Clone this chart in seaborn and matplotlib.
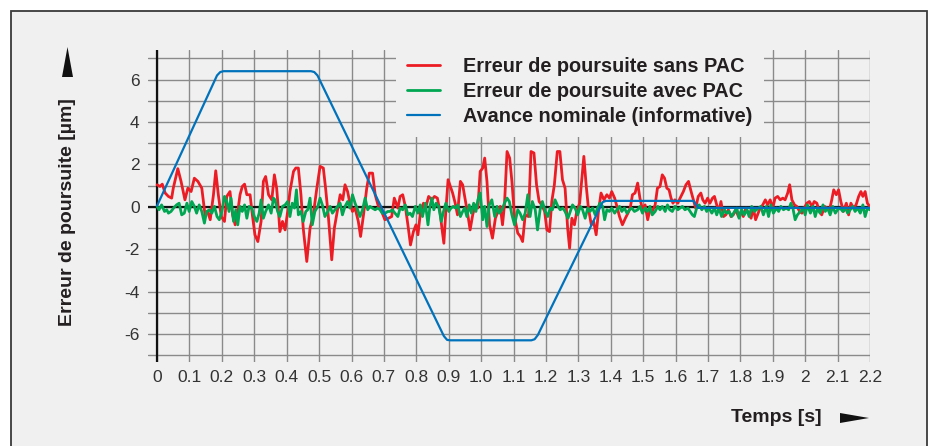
import pandas as pd
import matplotlib.pyplot as plt
import seaborn as sns
from matplotlib.patches import Rectangle, Polygon

# Temps [s] / erreur [µm]
t_sans = [0.000, 0.009, 0.016, 0.025, 0.035, 0.045, 0.050, 0.064, 0.074, 0.086, 0.095, 0.105, 0.115, 0.126,
          0.138, 0.148, 0.156, 0.164, 0.174, 0.181, 0.189, 0.198, 0.208, 0.215, 0.225, 0.233, 0.241, 0.249,
          0.256, 0.263, 0.270, 0.277, 0.287, 0.294, 0.302, 0.311, 0.321, 0.328, 0.335, 0.344, 0.354, 0.362,
          0.369, 0.374, 0.379, 0.387, 0.395, 0.403, 0.410, 0.421, 0.428, 0.436, 0.444, 0.451, 0.462, 0.472,
          0.482, 0.493, 0.503, 0.513, 0.520, 0.529, 0.539, 0.547, 0.556, 0.565, 0.573, 0.580, 0.588, 0.595,
          0.603, 0.611, 0.621, 0.628, 0.637, 0.647, 0.655, 0.665, 0.673, 0.683, 0.693, 0.703, 0.714, 0.724,
          0.732, 0.743, 0.750, 0.758, 0.766, 0.774, 0.782, 0.791, 0.799, 0.805, 0.813, 0.822, 0.830, 0.838,
          0.848, 0.856, 0.865, 0.873, 0.879, 0.885, 0.891, 0.898, 0.905, 0.912, 0.920, 0.927, 0.936, 0.943,
          0.951, 0.959, 0.966, 0.974, 0.982, 0.990, 0.997, 1.005, 1.011, 1.018, 1.026, 1.035, 1.044, 1.052,
          1.059, 1.066, 1.072, 1.080, 1.088, 1.095, 1.103, 1.113, 1.121, 1.128, 1.136, 1.146, 1.154, 1.163,
          1.171, 1.179, 1.187, 1.196, 1.203, 1.211, 1.218, 1.226, 1.235, 1.243, 1.251, 1.259, 1.267, 1.273,
          1.280, 1.288, 1.295, 1.304, 1.311, 1.317, 1.324, 1.331, 1.340, 1.347, 1.355, 1.362, 1.370, 1.379,
          1.388, 1.396, 1.403, 1.412, 1.419, 1.427, 1.436, 1.445, 1.453, 1.460, 1.467, 1.475, 1.483, 1.490,
          1.498, 1.506, 1.514, 1.521, 1.528, 1.537, 1.544, 1.552, 1.559, 1.566, 1.573, 1.580, 1.586, 1.592,
          1.598, 1.607, 1.614, 1.624, 1.632, 1.640, 1.648, 1.655, 1.662, 1.670, 1.678, 1.684, 1.691, 1.699,
          1.706, 1.714, 1.720, 1.727, 1.734, 1.740, 1.748, 1.755, 1.763, 1.771, 1.778, 1.786, 1.794, 1.802,
          1.809, 1.817, 1.825, 1.833, 1.840, 1.847, 1.861, 1.869, 1.877, 1.884, 1.892, 1.900, 1.907, 1.915,
          1.923, 1.931, 1.938, 1.946, 1.952, 1.959, 1.967, 1.974, 1.983, 1.990, 1.997, 2.005, 2.013, 2.021,
          2.028, 2.036, 2.044, 2.051, 2.060, 2.067, 2.075, 2.082, 2.088, 2.096, 2.103, 2.110, 2.118, 2.127,
          2.134, 2.141, 2.149, 2.157, 2.165, 2.172, 2.178, 2.185, 2.192, 2.199]
err_sans = [1.04, 0.96, 1.07, 0.65, 0.49, 0.41, 0.88, 1.80, 1.20, 0.33, 0.88, 0.72, 1.35, 1.20,
            0.88, -0.38, -0.22, -0.61, 0.57, 1.70, 0.57, -0.46, -0.69, 0.49, 0.72, -0.38, -0.85, -0.22,
            0.57, 0.96, 1.07, 0.57, 0.57, -0.38, -1.32, -1.64, -0.69, 1.20, 1.43, 0.57, 0.33, 1.51,
            0.88, -0.06, -1.17, -0.69, -1.09, -0.22, 0.72, 1.67, 1.83, 1.83, 0.57, -1.01, -2.58, -1.01,
            -0.38, 0.88, 1.91, 1.83, 0.88, -0.54, -2.50, -1.01, -0.22, 0.57, 0.33, 1.04, 0.72, 0.17,
            -0.22, -0.06, -0.69, -1.40, -0.38, 0.88, 1.59, 1.59, 0.57, 0.02, -0.22, -0.61, -0.54, -0.46,
            0.41, -0.06, 0.49, 0.57, 0.02, -0.85, -1.80, -1.17, -0.85, -1.32, -0.22, 0.17, 0.02, 0.49,
            0.33, 0.49, 0.41, -0.22, -1.01, -1.72, -0.22, 1.28, 0.96, 0.65, 0.17, -0.38, 1.20, 1.04,
            0.33, -0.38, -1.09, -0.38, 0.09, -0.06, 1.67, 1.83, 2.30, 1.20, -0.85, -1.48, -0.54, -0.22,
            0.02, -0.85, 0.09, 2.61, 2.30, 1.20, -0.46, -1.24, -1.40, -1.64, -0.38, -0.46, 2.61, 2.54,
            1.04, 0.25, 0.09, -0.22, -1.09, -1.17, 0.25, 1.04, 2.61, 2.61, 1.28, 0.88, -1.01, -1.95,
            -0.54, -0.85, -0.22, 0.17, 1.35, 2.38, 1.04, -0.06, -0.85, -0.69, -1.32, -0.22, 0.65, 0.33,
            0.57, 0.41, 0.72, 0.41, 0.02, -0.46, -0.85, -0.54, -0.30, -0.06, 0.57, 0.65, 1.12, 0.41,
            -0.14, 0.09, -0.61, -0.14, -0.22, 0.09, 0.88, 0.96, 1.51, 1.35, 0.88, 0.80, 0.41, 0.17,
            0.33, 0.17, 0.41, 0.72, 1.04, 1.20, 0.72, 0.33, -0.06, 0.49, 0.65, 0.33, 0.17, 0.41,
            0.17, 0.41, 0.49, 0.09, -0.22, 0.25, -0.46, -0.38, -0.14, -0.46, -0.38, -0.14, -0.46, -0.22,
            -0.46, -0.06, -0.30, -0.54, -0.06, -0.61, -0.06, 0.09, 0.33, 0.09, 0.33, -0.06, 0.41, 0.49,
            0.33, 0.41, 0.33, 0.65, 1.04, 0.33, 0.09, 0.02, -0.22, -0.30, -0.06, 0.17, 0.25, 0.02,
            0.25, 0.17, -0.22, -0.38, 0.02, -0.06, -0.14, 0.33, 0.80, 0.57, 0.80, 0.25, -0.22, 0.17,
            -0.38, 0.17, -0.06, 0.09, 0.49, 0.72, 0.49, 0.72, 0.17, 0.02]

t_avec = [0.000, 0.006, 0.014, 0.023, 0.030, 0.035, 0.043, 0.051, 0.060, 0.068, 0.076, 0.084, 0.092, 0.099,
          0.107, 0.115, 0.122, 0.130, 0.138, 0.146, 0.153, 0.162, 0.169, 0.177, 0.185, 0.192, 0.200, 0.208,
          0.215, 0.222, 0.228, 0.236, 0.243, 0.249, 0.256, 0.263, 0.270, 0.277, 0.284, 0.292, 0.300, 0.308,
          0.315, 0.321, 0.328, 0.335, 0.344, 0.352, 0.359, 0.364, 0.372, 0.379, 0.387, 0.395, 0.403, 0.410,
          0.417, 0.424, 0.430, 0.436, 0.444, 0.451, 0.459, 0.465, 0.472, 0.479, 0.487, 0.496, 0.503, 0.510,
          0.518, 0.527, 0.534, 0.541, 0.549, 0.557, 0.565, 0.572, 0.580, 0.588, 0.595, 0.603, 0.611, 0.619,
          0.626, 0.634, 0.642, 0.650, 0.657, 0.664, 0.673, 0.681, 0.688, 0.695, 0.704, 0.712, 0.719, 0.726,
          0.734, 0.743, 0.750, 0.758, 0.766, 0.774, 0.781, 0.788, 0.797, 0.805, 0.812, 0.819, 0.828, 0.836,
          0.842, 0.848, 0.854, 0.861, 0.869, 0.877, 0.884, 0.891, 0.900, 0.907, 0.914, 0.921, 0.928, 0.936,
          0.943, 0.949, 0.956, 0.963, 0.970, 0.977, 0.984, 0.990, 0.997, 1.005, 1.011, 1.018, 1.025, 1.033,
          1.042, 1.049, 1.056, 1.064, 1.072, 1.080, 1.087, 1.095, 1.103, 1.113, 1.120, 1.128, 1.136, 1.144,
          1.151, 1.158, 1.167, 1.174, 1.182, 1.189, 1.198, 1.206, 1.213, 1.220, 1.228, 1.237, 1.244, 1.252,
          1.259, 1.268, 1.275, 1.282, 1.290, 1.298, 1.306, 1.313, 1.321, 1.329, 1.336, 1.344, 1.352, 1.359,
          1.367, 1.375, 1.381, 1.388, 1.396, 1.403, 1.412, 1.419, 1.427, 1.434, 1.442, 1.450, 1.458, 1.465,
          1.473, 1.483, 1.490, 1.498, 1.506, 1.514, 1.521, 1.528, 1.537, 1.545, 1.552, 1.559, 1.568, 1.575,
          1.582, 1.590, 1.598, 1.607, 1.614, 1.621, 1.629, 1.638, 1.645, 1.652, 1.658, 1.665, 1.673, 1.681,
          1.689, 1.696, 1.703, 1.712, 1.720, 1.727, 1.734, 1.742, 1.751, 1.758, 1.765, 1.773, 1.782, 1.789,
          1.796, 1.804, 1.812, 1.820, 1.827, 1.835, 1.843, 1.863, 1.871, 1.880, 1.887, 1.894, 1.902, 1.911,
          1.918, 1.925, 1.933, 1.941, 1.949, 1.956, 1.962, 1.969, 1.976, 1.985, 1.993, 2.000, 2.007, 2.016,
          2.024, 2.031, 2.038, 2.046, 2.055, 2.062, 2.069, 2.077, 2.085, 2.093, 2.100, 2.108, 2.116, 2.124,
          2.131, 2.139, 2.147, 2.154, 2.162, 2.170, 2.178, 2.185, 2.192, 2.199]
err_avec = [0.02, -0.14, 0.09, -0.22, -0.14, -0.30, -0.22, -0.06, 0.09, 0.17, -0.38, -0.30, 0.17, -0.22,
            0.25, 0.02, -0.30, 0.09, -0.22, -0.77, -0.22, -0.14, -0.30, 0.02, -0.46, -0.61, -0.22, 0.49,
            0.25, -0.22, 0.41, -0.69, -0.14, -0.85, 0.02, -0.22, 0.09, -0.54, 0.02, -0.06, -0.46, -0.69,
            -0.30, 0.33, -0.54, -0.22, 0.09, -0.30, 0.41, 0.33, -0.22, -0.46, 0.02, 0.09, 0.25, -0.46,
            0.17, -0.06, 0.80, -0.38, -0.22, -0.69, -0.22, -0.14, 0.41, -0.85, -0.22, 0.02, 0.41, 0.09,
            -0.46, -0.22, 0.02, -0.30, -0.14, 0.02, 0.17, -0.38, 0.02, 0.25, -0.06, 0.57, 0.17, -0.14,
            -0.46, -0.14, 0.41, -0.14, 0.02, -0.06, -0.14, -0.06, -0.14, -0.30, -0.30, -0.22, -0.22, -0.14,
            -0.30, -0.46, -0.06, -0.14, 0.09, -0.38, -0.30, -0.46, 0.02, -0.30, 0.09, -0.46, 0.17, -0.85,
            0.02, 0.41, -0.14, 0.17, 0.02, -0.69, -0.22, 0.17, -0.22, -0.06, 0.02, -0.06, 0.09, -0.46,
            -0.22, -0.06, -0.46, 0.09, -0.30, 0.17, -0.22, 0.33, 0.65, -0.61, 0.02, -0.93, 0.09, 0.33,
            -0.46, 0.02, -0.30, -0.14, 0.17, 0.41, 0.25, -0.38, -0.85, -0.14, -0.30, -0.61, -0.30, 0.57,
            -0.46, 0.25, -0.14, -1.09, -0.14, 0.25, -0.22, -0.46, -0.06, -0.14, 0.33, 0.02, -0.14, -0.06,
            -0.22, -0.54, -0.22, 0.09, -0.06, -0.38, 0.02, -0.14, -0.54, -0.06, -0.22, -0.06, -0.38, -0.06,
            0.17, 0.02, -0.61, -0.14, -0.22, -0.06, -0.30, -0.14, 0.02, -0.22, -0.06, -0.30, -0.14, -0.06,
            -0.22, -0.14, 0.02, -0.30, -0.06, -0.22, 0.02, -0.38, -0.22, 0.02, -0.14, 0.02, -0.22, 0.09,
            -0.14, -0.22, 0.02, -0.14, -0.06, 0.02, -0.14, -0.06, -0.22, -0.38, -0.46, -0.06, 0.09, -0.14,
            0.02, -0.22, -0.06, -0.30, -0.06, -0.38, -0.06, -0.46, -0.14, -0.30, -0.22, -0.46, -0.22, -0.06,
            -0.54, -0.14, -0.38, -0.14, -0.46, 0.02, -0.22, 0.02, -0.38, 0.02, -0.46, 0.09, -0.30, -0.06,
            -0.22, 0.02, -0.14, -0.06, -0.14, 0.17, -0.06, -0.61, -0.38, -0.22, -0.06, -0.38, 0.09, -0.30,
            0.02, -0.46, -0.06, -0.30, 0.09, -0.22, -0.06, -0.38, 0.02, -0.30, -0.14, -0.06, -0.22, -0.06,
            -0.30, -0.14, 0.02, -0.22, -0.06, -0.30, 0.09, -0.46, -0.06, -0.14]

t_nominal = [0.000, 0.185, 0.195, 0.205, 0.475, 0.485, 0.495, 0.885, 0.895, 0.905, 1.155, 1.165, 1.175,
             1.375, 1.385, 1.655, 1.670, 2.200]
avance_nominale = [0.05, 6.2, 6.36, 6.4, 6.4, 6.36, 6.2, -6.1, -6.28, -6.3, -6.3, -6.25, -6.05,
                   0.22, 0.28, 0.28, -0.05, -0.05]

x_ticks = [round(0.1 * i, 1) for i in range(23)]
x_labels = ['0', '0.1', '0.2', '0.3', '0.4', '0.5', '0.6', '0.7', '0.8', '0.9', '1.0', '1.1',
            '1.2', '1.3', '1.4', '1.5', '1.6', '1.7', '1.8', '1.9', '2', '2.1', '2.2']
y_ticks = [-6, -4, -2, 0, 2, 4, 6]

labels = ['Erreur de poursuite sans PAC', 'Erreur de poursuite avec PAC', 'Avance nominale (informative)']
colors = ['#ec1c24', '#00a651', '#0072bc']

sns.set_theme(style='white')
plt.rcParams['font.family'] = ['Liberation Sans', 'DejaVu Sans']
plt.rcParams['axes.unicode_minus'] = False

bg = '#f0f0f0'
fig = plt.figure(figsize=(9.3, 4.46), dpi=100, facecolor='white')
fig.patches.append(Rectangle((11 / 930, -0.1), (927 - 11) / 930, 1.1 - 11 / 446,
                             transform=fig.transFigure, facecolor=bg, edgecolor='#3a3a3a',
                             linewidth=1.3, zorder=-5))
ax = fig.add_axes([148 / 930, 1 - 361.5 / 446, (870 - 148) / 930, (361.5 - 50) / 446])
ax.set_facecolor('none')
ax.set_zorder(2)

# Grille
for t in x_ticks:
    ax.axvline(t, color='#8a8a8a', lw=1.0, zorder=1)
for v in range(-7, 8):
    ax.axhline(v, color='#8a8a8a', lw=1.0, zorder=1)
ax.axhline(0, color='#111111', lw=1.6, zorder=2)
ax.axvline(0, color='#111111', lw=1.6, zorder=2)

df_sans = pd.DataFrame({'t': t_sans, 'err': err_sans})
df_avec = pd.DataFrame({'t': t_avec, 'err': err_avec})
df_nom = pd.DataFrame({'t': t_nominal, 'err': avance_nominale})

sns.lineplot(data=df_sans, x='t', y='err', ax=ax, color=colors[0], lw=2.0, label=labels[0],
             estimator=None, zorder=3)
sns.lineplot(data=df_avec, x='t', y='err', ax=ax, color=colors[1], lw=2.0, label=labels[1],
             estimator=None, zorder=4)
sns.lineplot(data=df_nom, x='t', y='err', ax=ax, color=colors[2], lw=1.6, label=labels[2],
             estimator=None, zorder=5)

ax.set_xlim(-0.028, 2.2)
ax.set_ylim(-7.3, 7.4)
ax.set_xticks(x_ticks)
ax.set_xticklabels(x_labels)
ax.set_yticks(y_ticks)
ax.tick_params(length=0, labelsize=12.5, labelcolor='#333333')
ax.tick_params(axis='x', pad=6)
ax.tick_params(axis='y', pad=6)
for s in ax.spines.values():
    s.set_visible(False)
ax.set_xlabel('')
ax.set_ylabel('')

leg = ax.legend(loc='upper left', bbox_to_anchor=(386 / 930, 1 - 36 / 446),
                bbox_transform=fig.transFigure, frameon=True, facecolor=bg, edgecolor='none',
                framealpha=1, fancybox=False, handlelength=1.65, handletextpad=1.2,
                labelspacing=0.3, borderpad=0.55, prop={'weight': 'bold', 'size': 14.3})
leg.set_zorder(10)
for txt in leg.get_texts():
    txt.set_color('#231f20')

# Titres des axes et flèches
fig.text(67 / 930, 1 - 212 / 446, 'Erreur de poursuite [µm]', rotation=90, ha='center', va='center',
         fontsize=14, fontweight='bold', color='#231f20')
fig.text(822 / 930, 1 - 418 / 446, 'Temps [s]', ha='right', va='center',
         fontsize=14, fontweight='bold', color='#231f20')
fig.patches.append(Polygon([(62 / 930, 1 - 77 / 446), (73 / 930, 1 - 77 / 446), (67.5 / 930, 1 - 47 / 446)],
                           closed=True, transform=fig.transFigure, facecolor='#111111', edgecolor='none'))
fig.patches.append(Polygon([(840 / 930, 1 - 413 / 446), (840 / 930, 1 - 423 / 446), (869 / 930, 1 - 418 / 446)],
                           closed=True, transform=fig.transFigure, facecolor='#111111', edgecolor='none'))

fig.savefig('out.png', dpi=100, facecolor=fig.get_facecolor())
